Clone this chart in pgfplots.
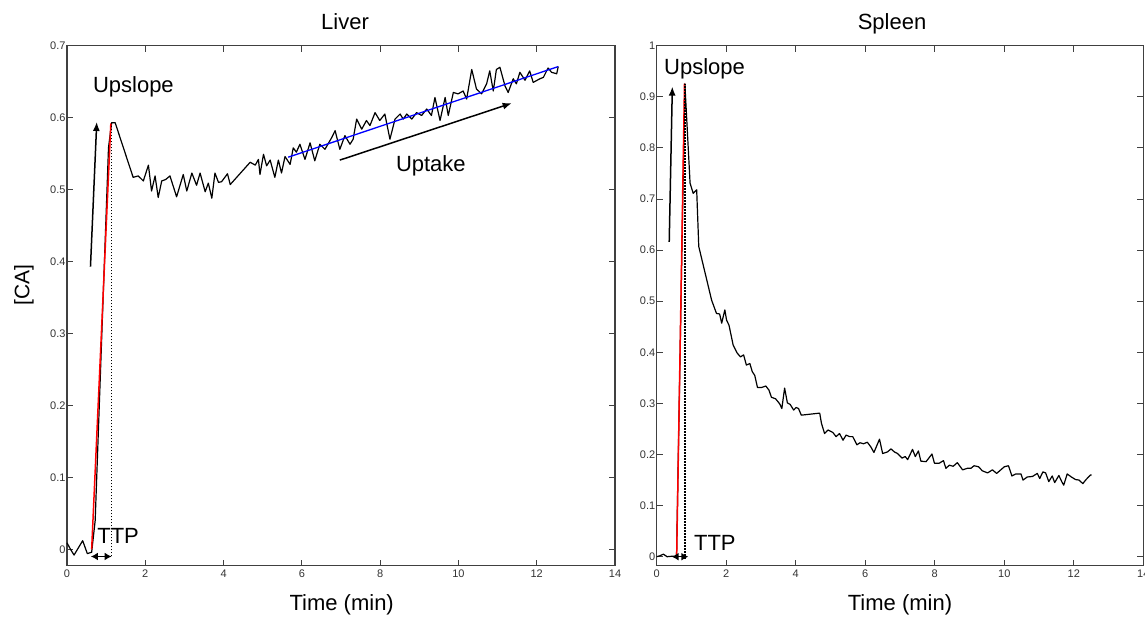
\documentclass[border=0pt]{standalone}
\usepackage{fontspec}
\setmainfont{Liberation Sans}
\usepackage{pgfplots}
\pgfplotsset{compat=1.18}
\usetikzlibrary{arrows.meta}

\pgfplotstableread{
t y
0 0.009
0.09 0.0
0.18 -0.008
0.29 0.002
0.40 0.012
0.52 -0.006
0.63 -0.004
0.72 0.04
1.06 0.558
1.14 0.593
1.23 0.593
1.69 0.517
1.82 0.519
1.95 0.512
2.08 0.534
2.16 0.498
2.25 0.519
2.33 0.489
2.42 0.512
2.52 0.514
2.63 0.519
2.80 0.490
2.97 0.521
3.06 0.498
3.19 0.523
3.31 0.506
3.40 0.523
3.53 0.497
3.61 0.509
3.70 0.488
3.78 0.523
3.87 0.510
3.95 0.511
4.10 0.522
4.17 0.507
4.68 0.538
4.81 0.534
4.89 0.542
4.93 0.521
5.02 0.549
5.10 0.533
5.19 0.541
5.31 0.517
5.40 0.541
5.48 0.523
5.57 0.546
5.70 0.535
5.78 0.558
5.86 0.552
5.95 0.563
6.08 0.542
6.21 0.565
6.33 0.540
6.46 0.563
6.59 0.556
6.76 0.572
6.85 0.582
6.97 0.556
7.10 0.575
7.23 0.563
7.31 0.570
7.40 0.598
7.53 0.584
7.65 0.596
7.74 0.589
7.87 0.607
7.99 0.596
8.12 0.605
8.25 0.570
8.38 0.598
8.51 0.605
8.59 0.598
8.68 0.605
8.81 0.598
8.93 0.607
9.06 0.603
9.19 0.612
9.31 0.603
9.40 0.628
9.53 0.596
9.66 0.628
9.74 0.603
9.87 0.635
9.99 0.633
10.12 0.637
10.21 0.626
10.34 0.667
10.46 0.640
10.59 0.633
10.72 0.647
10.80 0.665
10.89 0.637
10.97 0.667
11.06 0.670
11.19 0.644
11.27 0.635
11.40 0.654
11.48 0.647
11.57 0.663
11.70 0.652
11.82 0.665
11.91 0.649
12.08 0.654
12.17 0.656
12.29 0.669
12.38 0.663
12.51 0.661
12.55 0.671
}\liver

\pgfplotstableread{
t y
0 0
0.10 0.002
0.19 0.005
0.30 0
0.45 0.001
0.57 0.0
0.81 0.926
0.96 0.731
1.05 0.711
1.15 0.718
1.21 0.607
1.58 0.502
1.72 0.476
1.81 0.475
1.87 0.457
1.96 0.483
2.01 0.463
2.08 0.453
2.20 0.414
2.31 0.399
2.41 0.391
2.50 0.395
2.58 0.375
2.68 0.378
2.75 0.362
2.82 0.355
2.90 0.331
3.01 0.331
3.14 0.334
3.23 0.326
3.30 0.312
3.42 0.309
3.54 0.299
3.60 0.290
3.68 0.330
3.76 0.301
3.84 0.298
3.94 0.287
4.01 0.292
4.08 0.290
4.16 0.277
4.69 0.281
4.74 0.261
4.83 0.241
4.93 0.248
5.07 0.243
5.16 0.235
5.26 0.241
5.36 0.228
5.45 0.238
5.55 0.235
5.64 0.235
5.76 0.219
5.85 0.223
5.95 0.221
6.06 0.224
6.16 0.215
6.25 0.204
6.41 0.230
6.50 0.202
6.64 0.205
6.74 0.211
6.84 0.205
6.93 0.202
7.06 0.193
7.15 0.196
7.22 0.190
7.36 0.210
7.44 0.196
7.53 0.207
7.60 0.187
7.75 0.186
7.92 0.201
7.99 0.183
8.13 0.183
8.25 0.188
8.32 0.173
8.42 0.179
8.53 0.177
8.65 0.184
8.80 0.170
8.94 0.173
9.04 0.173
9.13 0.178
9.26 0.176
9.37 0.168
9.52 0.164
9.66 0.170
9.78 0.163
9.90 0.170
10.00 0.176
10.12 0.178
10.22 0.158
10.33 0.162
10.48 0.162
10.54 0.150
10.66 0.156
10.81 0.157
10.95 0.163
11.02 0.153
11.11 0.166
11.19 0.164
11.28 0.147
11.38 0.158
11.45 0.145
11.57 0.159
11.66 0.146
11.71 0.140
11.81 0.162
11.93 0.156
12.05 0.151
12.15 0.150
12.26 0.143
12.34 0.150
12.48 0.160
12.51 0.160
}\spleen

\tikzset{
  big/.style={font=\fontsize{22}{26}\selectfont, inner sep=0pt},
  arr/.style={line width=1.5pt, -{Latex[length=9pt,width=7pt]}},
  darr/.style={line width=1.5pt, {Latex[length=7pt,width=8pt]}-{Latex[length=7pt,width=8pt]}},
  dots/.style={black, line width=1.5pt, dash pattern=on 1.5pt off 1.5pt},
}
\pgfplotsset{
  myax/.style={
    scale only axis, height=520pt,
    anchor=south west,
    xmin=0, xmax=14, xtick={0,2,...,14},
    tick align=inside, major tick length=6pt,
    axis line style={line width=1.2pt, draw=black!75},
    every tick/.style={line width=1pt, black!75},
    ticklabel style={font=\fontsize{11}{13}\selectfont, text=black!80},
    xticklabel style={yshift=-1pt},
    yticklabel style={xshift=2pt},
    /pgf/number format/assume math mode=true,
    clip=false,
  },
  dat/.style={black, line width=1.2pt, line join=round, mark=none},
}

\begin{document}
\begin{tikzpicture}
\useasboundingbox (0pt,0pt) rectangle (1145pt,619pt);

\begin{axis}[myax, at={(67pt,53.3pt)}, width=548pt,
  ymin=-0.0228, ymax=0.7, ytick={0,0.1,...,0.7}]
  \addplot[dat] table[x=t,y=y] {\liver};
  \addplot[red, line width=1.5pt] coordinates {(0.63,0.0) (1.12,0.592)};
  \addplot[blue, line width=1.3pt] coordinates {(5.65,0.545) (12.55,0.671)};
  \draw[dots] (axis cs:1.14,-0.010) -- (axis cs:1.14,0.593);
  \draw[darr] (axis cs:0.61,-0.010) -- (axis cs:1.14,-0.010);
  \draw[arr] (axis cs:0.60,0.393) -- (axis cs:0.76,0.594);
  \draw[arr] (axis cs:6.97,0.541) -- (axis cs:11.36,0.620);
  \node[big, anchor=base west] at (axis cs:0.66,0.635) {Upslope};
  \node[big, anchor=base west] at (axis cs:0.77,0.0074) {TTP};
  \node[big, anchor=base west] at (axis cs:8.40,0.5245) {Uptake};
\end{axis}

\begin{axis}[myax, at={(656.7pt,53.3pt)}, width=486.6pt,
  ymin=-0.0176, ymax=1, ytick={0,0.1,...,1}]
  \addplot[dat] table[x=t,y=y] {\spleen};
  \addplot[red, line width=1.5pt] coordinates {(0.574,0.0) (0.80,0.926)};
  \draw[dots] (axis cs:0.81,-0.004) -- (axis cs:0.81,0.926);
  \draw[darr] (axis cs:0.43,0) -- (axis cs:0.91,0);
  \draw[arr] (axis cs:0.36,0.616) -- (axis cs:0.45,0.920);
  \node[big, anchor=base west] at (axis cs:0.21,0.943) {Upslope};
  \node[big, anchor=base west] at (axis cs:1.07,0.0117) {TTP};
\end{axis}

\node[big, anchor=base] at (345pt,589.7pt) {Liver};
\node[big, anchor=base] at (892pt,589.7pt) {Spleen};
\node[big, anchor=base] at (341.7pt,9pt) {Time (min)};
\node[big, anchor=base] at (900pt,9pt) {Time (min)};
\node[font=\fontsize{21}{24}\selectfont, inner sep=0pt, rotate=90] at (24pt,334pt) {[CA]};
\end{tikzpicture}
\end{document}
